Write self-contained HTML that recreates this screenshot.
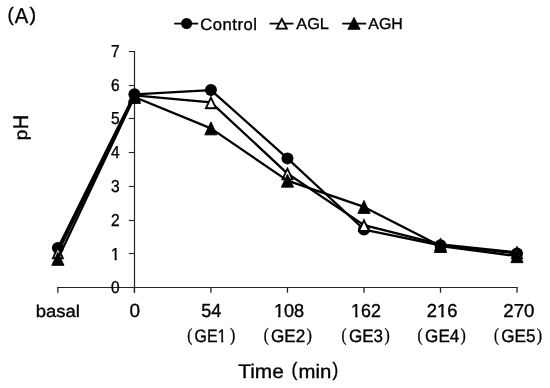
<!DOCTYPE html>
<html><head><meta charset="utf-8"><style>
html,body{margin:0;padding:0;background:#fff;}
svg{display:block;will-change:transform;}
text{font-family:"Liberation Sans",sans-serif;text-rendering:geometricPrecision;fill:#000;stroke:#000;stroke-width:0.35px;}
</style></head><body>
<svg width="550" height="388" viewBox="0 0 550 388">
<defs><clipPath id="c1_0" clipPathUnits="userSpaceOnUse"><path d="M-50,-60H400V40H-50ZM0.52,-1.99H3.98V3.46H0.52ZM6.23,-1.99H9.43V3.46H6.23Z" clip-rule="evenodd"/></clipPath><clipPath id="c1_1" clipPathUnits="userSpaceOnUse"><path d="M-50,-60H400V40H-50ZM0.56,-2.16H4.31V3.75H0.56ZM6.75,-2.16H10.21V3.75H6.75Z" clip-rule="evenodd"/></clipPath><clipPath id="c1_2" clipPathUnits="userSpaceOnUse"><path d="M-50,-60H400V40H-50ZM0.56,-2.15H4.31V3.75H0.56ZM6.74,-2.15H10.21V3.75H6.74Z" clip-rule="evenodd"/></clipPath><clipPath id="c1_3" clipPathUnits="userSpaceOnUse"><path d="M-50,-60H400V40H-50ZM11.03,-2.16H14.79V3.76H11.03ZM17.24,-2.16H20.72V3.76H17.24Z" clip-rule="evenodd"/></clipPath><clipPath id="c1_4" clipPathUnits="userSpaceOnUse"><path d="M-50,-60H400V40H-50ZM26.58,-2.07H30.19V3.60H26.58ZM32.53,-2.07H35.86V3.60H32.53Z" clip-rule="evenodd"/></clipPath></defs>
<rect width="550" height="388" fill="#fff"/>
<line x1="57.30" y1="287.5" x2="517.62" y2="287.5" stroke="#262626" stroke-width="1.2"/>
<line x1="57.90" y1="287" x2="57.90" y2="292.8" stroke="#262626" stroke-width="1.3"/>
<line x1="134.42" y1="287" x2="134.42" y2="292.8" stroke="#262626" stroke-width="1.3"/>
<line x1="210.94" y1="287" x2="210.94" y2="292.8" stroke="#262626" stroke-width="1.3"/>
<line x1="287.46" y1="287" x2="287.46" y2="292.8" stroke="#262626" stroke-width="1.3"/>
<line x1="363.98" y1="287" x2="363.98" y2="292.8" stroke="#262626" stroke-width="1.3"/>
<line x1="440.50" y1="287" x2="440.50" y2="292.8" stroke="#262626" stroke-width="1.3"/>
<line x1="517.02" y1="287" x2="517.02" y2="292.8" stroke="#262626" stroke-width="1.3"/>
<line x1="134.5" y1="51" x2="134.5" y2="292.8" stroke="#262626" stroke-width="1.2"/>
<line x1="128.8" y1="287.5" x2="135" y2="287.5" stroke="#262626" stroke-width="1.1"/>
<line x1="128.8" y1="253.5" x2="135" y2="253.5" stroke="#262626" stroke-width="1.1"/>
<line x1="128.8" y1="220.5" x2="135" y2="220.5" stroke="#262626" stroke-width="1.1"/>
<line x1="128.8" y1="186.5" x2="135" y2="186.5" stroke="#262626" stroke-width="1.1"/>
<line x1="128.8" y1="152.5" x2="135" y2="152.5" stroke="#262626" stroke-width="1.1"/>
<line x1="128.8" y1="118.5" x2="135" y2="118.5" stroke="#262626" stroke-width="1.1"/>
<line x1="128.8" y1="85.5" x2="135" y2="85.5" stroke="#262626" stroke-width="1.1"/>
<line x1="128.8" y1="51.5" x2="135" y2="51.5" stroke="#262626" stroke-width="1.1"/>
<text transform="translate(119.7,293.40) scale(0.9,1)" text-anchor="end" font-size="17.3">0</text>
<text clip-path="url(#c1_0)" transform="translate(111.04,260.00) scale(0.9,1)" font-size="17.3">1</text>
<text transform="translate(119.7,226.40) scale(0.9,1)" text-anchor="end" font-size="17.3">2</text>
<text transform="translate(119.7,192.40) scale(0.9,1)" text-anchor="end" font-size="17.3">3</text>
<text transform="translate(119.7,158.40) scale(0.9,1)" text-anchor="end" font-size="17.3">4</text>
<text transform="translate(119.7,124.40) scale(0.9,1)" text-anchor="end" font-size="17.3">5</text>
<text transform="translate(119.7,91.40) scale(0.9,1)" text-anchor="end" font-size="17.3">6</text>
<text transform="translate(119.7,57.40) scale(0.9,1)" text-anchor="end" font-size="17.3">7</text>
<text transform="translate(35.64,316.64) scale(1.075,1)" font-size="17.16">basal</text>
<text transform="translate(129.54,317.32) scale(0.994,1)" font-size="19.16">0</text>
<text transform="translate(201.23,316.96) scale(0.947,1)" font-size="19.08">54</text>
<text clip-path="url(#c1_1)" transform="translate(273.91,317.00) scale(0.968,1)" font-size="18.74">108</text>
<text clip-path="url(#c1_2)" transform="translate(351.07,317.00) scale(0.953,1)" font-size="18.74">162</text>
<text clip-path="url(#c1_3)" transform="translate(426.85,317.00) scale(0.977,1)" font-size="18.82">216</text>
<text transform="translate(503.29,317.10) scale(0.994,1)" font-size="18.76">270</text>
<text clip-path="url(#c1_4)" transform="translate(194.52,342.00) scale(0.884,1)" font-size="18.02">GE1</text>
<text style="font-family:&quot;Liberation Serif&quot;,serif;stroke-width:0.3px" transform="translate(187.27,340.64) scale(0.833,1)" font-size="18.28">(</text>
<text style="font-family:&quot;Liberation Serif&quot;,serif;stroke-width:0.3px" transform="translate(230.06,341.26) scale(0.842,1)" font-size="18.76">)</text>
<text transform="translate(270.97,341.82) scale(0.951,1)" font-size="18.05">GE2</text>
<text style="font-family:&quot;Liberation Serif&quot;,serif;stroke-width:0.3px" transform="translate(263.65,340.77) scale(0.795,1)" font-size="18.76">(</text>
<text style="font-family:&quot;Liberation Serif&quot;,serif;stroke-width:0.3px" transform="translate(306.50,340.79) scale(0.898,1)" font-size="18.18">)</text>
<text transform="translate(348.95,342.26) scale(0.946,1)" font-size="18.05">GE3</text>
<text style="font-family:&quot;Liberation Serif&quot;,serif;stroke-width:0.3px" transform="translate(341.39,341.01) scale(0.810,1)" font-size="18.61">(</text>
<text style="font-family:&quot;Liberation Serif&quot;,serif;stroke-width:0.3px" transform="translate(384.55,341.22) scale(0.851,1)" font-size="18.60">)</text>
<text transform="translate(425.10,342.26) scale(0.949,1)" font-size="18.05">GE4</text>
<text style="font-family:&quot;Liberation Serif&quot;,serif;stroke-width:0.3px" transform="translate(417.57,340.99) scale(0.822,1)" font-size="18.52">(</text>
<text style="font-family:&quot;Liberation Serif&quot;,serif;stroke-width:0.3px" transform="translate(460.38,340.61) scale(0.863,1)" font-size="18.49">)</text>
<text transform="translate(501.27,341.89) scale(0.947,1)" font-size="18.05">GE5</text>
<text style="font-family:&quot;Liberation Serif&quot;,serif;stroke-width:0.3px" transform="translate(493.91,340.75) scale(0.796,1)" font-size="18.68">(</text>
<text style="font-family:&quot;Liberation Serif&quot;,serif;stroke-width:0.3px" transform="translate(536.71,340.58) scale(0.884,1)" font-size="18.22">)</text>
<polyline points="57.90,248.05 134.42,94.32 210.94,90.10 287.46,158.38 363.98,229.51 440.50,245.36 517.02,253.45" fill="none" stroke="#000" stroke-width="2.3" stroke-linejoin="round"/>
<circle cx="57.90" cy="248.05" r="6.0" fill="#000"/>
<circle cx="134.42" cy="94.32" r="6.0" fill="#000"/>
<circle cx="210.94" cy="90.10" r="6.0" fill="#000"/>
<circle cx="287.46" cy="158.38" r="6.0" fill="#000"/>
<circle cx="363.98" cy="229.51" r="6.0" fill="#000"/>
<circle cx="440.50" cy="245.36" r="6.0" fill="#000"/>
<circle cx="517.02" cy="253.45" r="6.0" fill="#000"/>
<polyline points="57.90,252.44 134.42,95.33 210.94,102.41 287.46,173.55 363.98,225.13 440.50,244.35 517.02,252.44" fill="none" stroke="#000" stroke-width="2.3" stroke-linejoin="round"/>
<polygon points="57.90,245.94 64.00,258.94 51.80,258.94" fill="#000" stroke="#000" stroke-width="0.5" stroke-linejoin="round"/><polygon points="57.90,249.70 61.48,257.34 54.32,257.34" fill="#fff"/>
<polygon points="134.42,88.83 140.52,101.83 128.32,101.83" fill="#000" stroke="#000" stroke-width="0.5" stroke-linejoin="round"/><polygon points="134.42,92.60 138.00,100.23 130.84,100.23" fill="#fff"/>
<polygon points="210.94,95.91 217.04,108.91 204.84,108.91" fill="#000" stroke="#000" stroke-width="0.5" stroke-linejoin="round"/><polygon points="210.94,99.68 214.52,107.31 207.36,107.31" fill="#fff"/>
<polygon points="287.46,167.05 293.56,180.05 281.36,180.05" fill="#000" stroke="#000" stroke-width="0.5" stroke-linejoin="round"/><polygon points="287.46,170.81 291.04,178.45 283.88,178.45" fill="#fff"/>
<polygon points="363.98,218.63 370.08,231.63 357.88,231.63" fill="#000" stroke="#000" stroke-width="0.5" stroke-linejoin="round"/><polygon points="363.98,222.40 367.56,230.03 360.40,230.03" fill="#fff"/>
<polygon points="440.50,237.85 446.60,250.85 434.40,250.85" fill="#000" stroke="#000" stroke-width="0.5" stroke-linejoin="round"/><polygon points="440.50,241.61 444.08,249.25 436.92,249.25" fill="#fff"/>
<polygon points="517.02,245.94 523.12,258.94 510.92,258.94" fill="#000" stroke="#000" stroke-width="0.5" stroke-linejoin="round"/><polygon points="517.02,249.70 520.60,257.34 513.44,257.34" fill="#fff"/>
<polyline points="57.90,258.84 134.42,97.02 210.94,128.37 287.46,180.63 363.98,206.92 440.50,246.03 517.02,256.15" fill="none" stroke="#000" stroke-width="2.3" stroke-linejoin="round"/>
<polygon points="57.90,252.34 64.00,265.34 51.80,265.34" fill="#000" stroke="#000" stroke-width="0.9" stroke-linejoin="round"/>
<polygon points="134.42,90.52 140.52,103.52 128.32,103.52" fill="#000" stroke="#000" stroke-width="0.9" stroke-linejoin="round"/>
<polygon points="210.94,121.87 217.04,134.87 204.84,134.87" fill="#000" stroke="#000" stroke-width="0.9" stroke-linejoin="round"/>
<polygon points="287.46,174.13 293.56,187.13 281.36,187.13" fill="#000" stroke="#000" stroke-width="0.9" stroke-linejoin="round"/>
<polygon points="363.98,200.42 370.08,213.42 357.88,213.42" fill="#000" stroke="#000" stroke-width="0.9" stroke-linejoin="round"/>
<polygon points="440.50,239.53 446.60,252.53 434.40,252.53" fill="#000" stroke="#000" stroke-width="0.9" stroke-linejoin="round"/>
<polygon points="517.02,249.65 523.12,262.65 510.92,262.65" fill="#000" stroke="#000" stroke-width="0.9" stroke-linejoin="round"/>
<line x1="174.2" y1="23.6" x2="198.2" y2="23.6" stroke="#000" stroke-width="1.8"/>
<circle cx="186.6" cy="23.5" r="5.5" fill="#000"/>
<text x="200.27" y="29.73" font-size="16.60" textLength="56.68" lengthAdjust="spacing">Control</text>
<line x1="269.6" y1="23.6" x2="293.5" y2="23.6" stroke="#000" stroke-width="1.8"/>
<polygon points="281.80,17.40 287.95,29.30 275.65,29.30" fill="#000" stroke="#000" stroke-width="0.5" stroke-linejoin="round"/><polygon points="281.80,20.88 285.32,27.70 278.28,27.70" fill="#fff"/>
<text transform="translate(296.31,29.19) scale(1.036,1)" font-size="15.72">AGL</text>
<line x1="342.2" y1="23.6" x2="366.2" y2="23.6" stroke="#000" stroke-width="1.8"/>
<polygon points="354.00,17.40 360.10,29.30 347.90,29.30" fill="#000" stroke="#000" stroke-width="0.9" stroke-linejoin="round"/>
<text transform="translate(368.32,28.71) scale(1.011,1)" font-size="15.77">AGH</text>
<text transform="translate(7.58,20.71) scale(0.968,1)" font-size="19.48">(</text>
<text transform="translate(14.80,23.22) scale(0.938,1)" font-size="21.54">A</text>
<text transform="translate(29.41,21.35) scale(1.027,1)" font-size="19.46">)</text>
<text transform="translate(28.02,129.25) rotate(-90) scale(0.944,1)" font-size="21.37">H</text>
<text transform="translate(27.35,140.25) rotate(-90) scale(1.070,1)" font-size="17.73">p</text>
<text transform="translate(238.20,378.12) scale(1.057,1)" font-size="19.76">Time</text>
<text transform="translate(291.62,376.33) scale(0.915,1)" font-size="19.35">(</text>
<text transform="translate(298.49,378.43) scale(1.056,1)" font-size="19.28">min</text>
<text transform="translate(332.39,376.37) scale(0.895,1)" font-size="19.28">)</text>
</svg>
</body></html>
